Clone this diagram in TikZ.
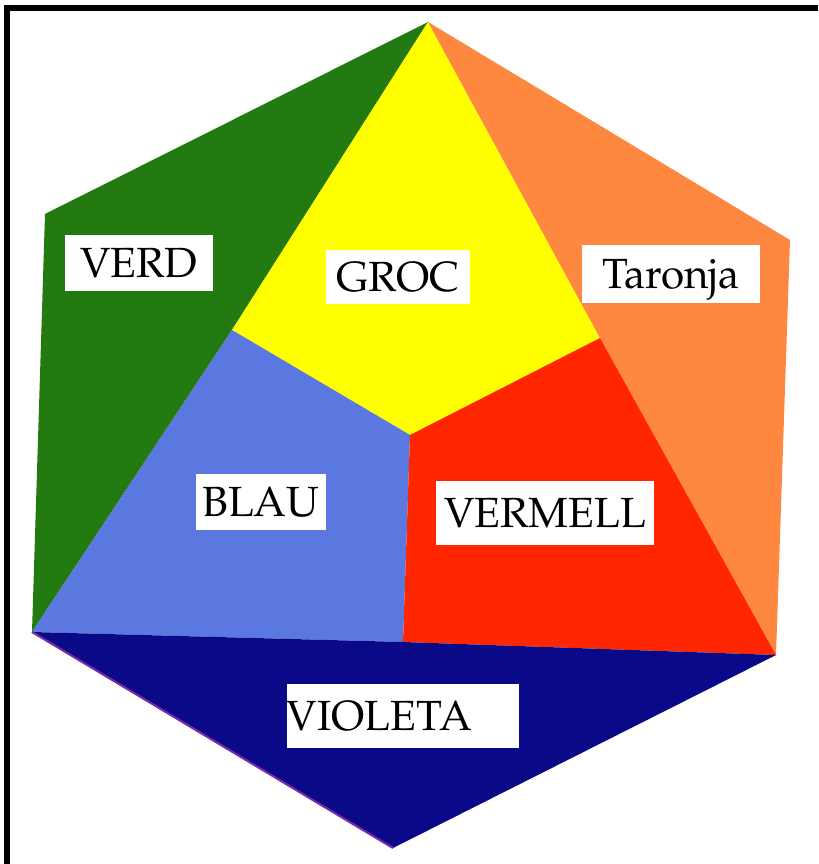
\documentclass[tikz,border=0pt]{standalone}
\usepackage[T1]{fontenc}
\usepackage{palatino}
\usepackage{tikz}
\definecolor{HexGreen}{HTML}{237A10}
\definecolor{HexYellow}{HTML}{FFFF00}
\definecolor{HexOrange}{HTML}{FF8840}
\definecolor{HexRed}{HTML}{FF2600}
\definecolor{HexBlue}{HTML}{5A78E0}
\definecolor{HexViolet}{HTML}{0A0A88}
\definecolor{HexEdge}{HTML}{7A2AA8}
\tikzset{
  patch/.style={draw=none},
  colorname/.style={
    fill=white,
    inner sep=0pt,
    font=\fontsize{12}{14}\selectfont,
    text height=8.3pt,
    text depth=0pt
  }
}

\begin{document}
\begin{tikzpicture}[x=.01cm,y=-.01cm]
  \useasboundingbox (0,0) rectangle (818,864);
  % Frame is only visible at the top and on the left.
  \fill[black] (4,5) rectangle (818,11);
  \fill[black] (4,5) rectangle (10,864);

  % Corners of the hexagon and the inner triangle.
  \coordinate (top) at (428,22);
  \coordinate (upleft) at (45,214);
  \coordinate (lowleft) at (32,632);
  \coordinate (bottom) at (393,848);
  \coordinate (lowright) at (776,655);
  \coordinate (upright) at (790,240);
  \coordinate (yleft) at (232,330);
  \coordinate (ydown) at (410,435);
  \coordinate (yright) at (600,338);
  \coordinate (bmid) at (403,642);

  % Six colour patches.
  \fill[HexGreen,patch] (top) -- (upleft) -- (lowleft) -- (yleft) -- cycle;
  \fill[HexYellow,patch] (top) -- (yleft) -- (ydown) -- (yright) -- cycle;
  \fill[HexOrange,patch] (top) -- (upright) -- (lowright) -- (yright) -- cycle;
  \fill[HexBlue,patch] (yleft) -- (lowleft) -- (bmid) -- (ydown) -- cycle;
  \fill[HexRed,patch] (yright) -- (ydown) -- (bmid) -- (lowright) -- cycle;
  \fill[HexViolet,patch] (lowleft) -- (bmid) -- (lowright) -- (bottom) -- cycle;
  \draw[HexEdge,line width=.6pt] (lowleft) -- (bottom);

  % Names of the colours.
  \node[colorname,minimum width=1.48cm,minimum height=.56cm] (verd) at (139,263) {VERD};
  \node[colorname,minimum width=1.44cm,minimum height=.54cm] (groc) at (398,277) {GROC\hspace{1.5mm}};
  \node[colorname,minimum width=1.78cm,minimum height=.58cm] (taronja) at (671,274) {Taronja\hspace{1mm}};
  \node[colorname,minimum width=1.29cm,minimum height=.55cm] (blau) at (261,502) {BLAU};
  \node[colorname,minimum width=2.17cm,minimum height=.63cm] (vermell) at (545,513) {VERMELL};
  \node[colorname,text width=2.32cm,align=left,minimum height=.64cm] (violeta) at (403,716) {VIOLETA};
\end{tikzpicture}
\end{document}
